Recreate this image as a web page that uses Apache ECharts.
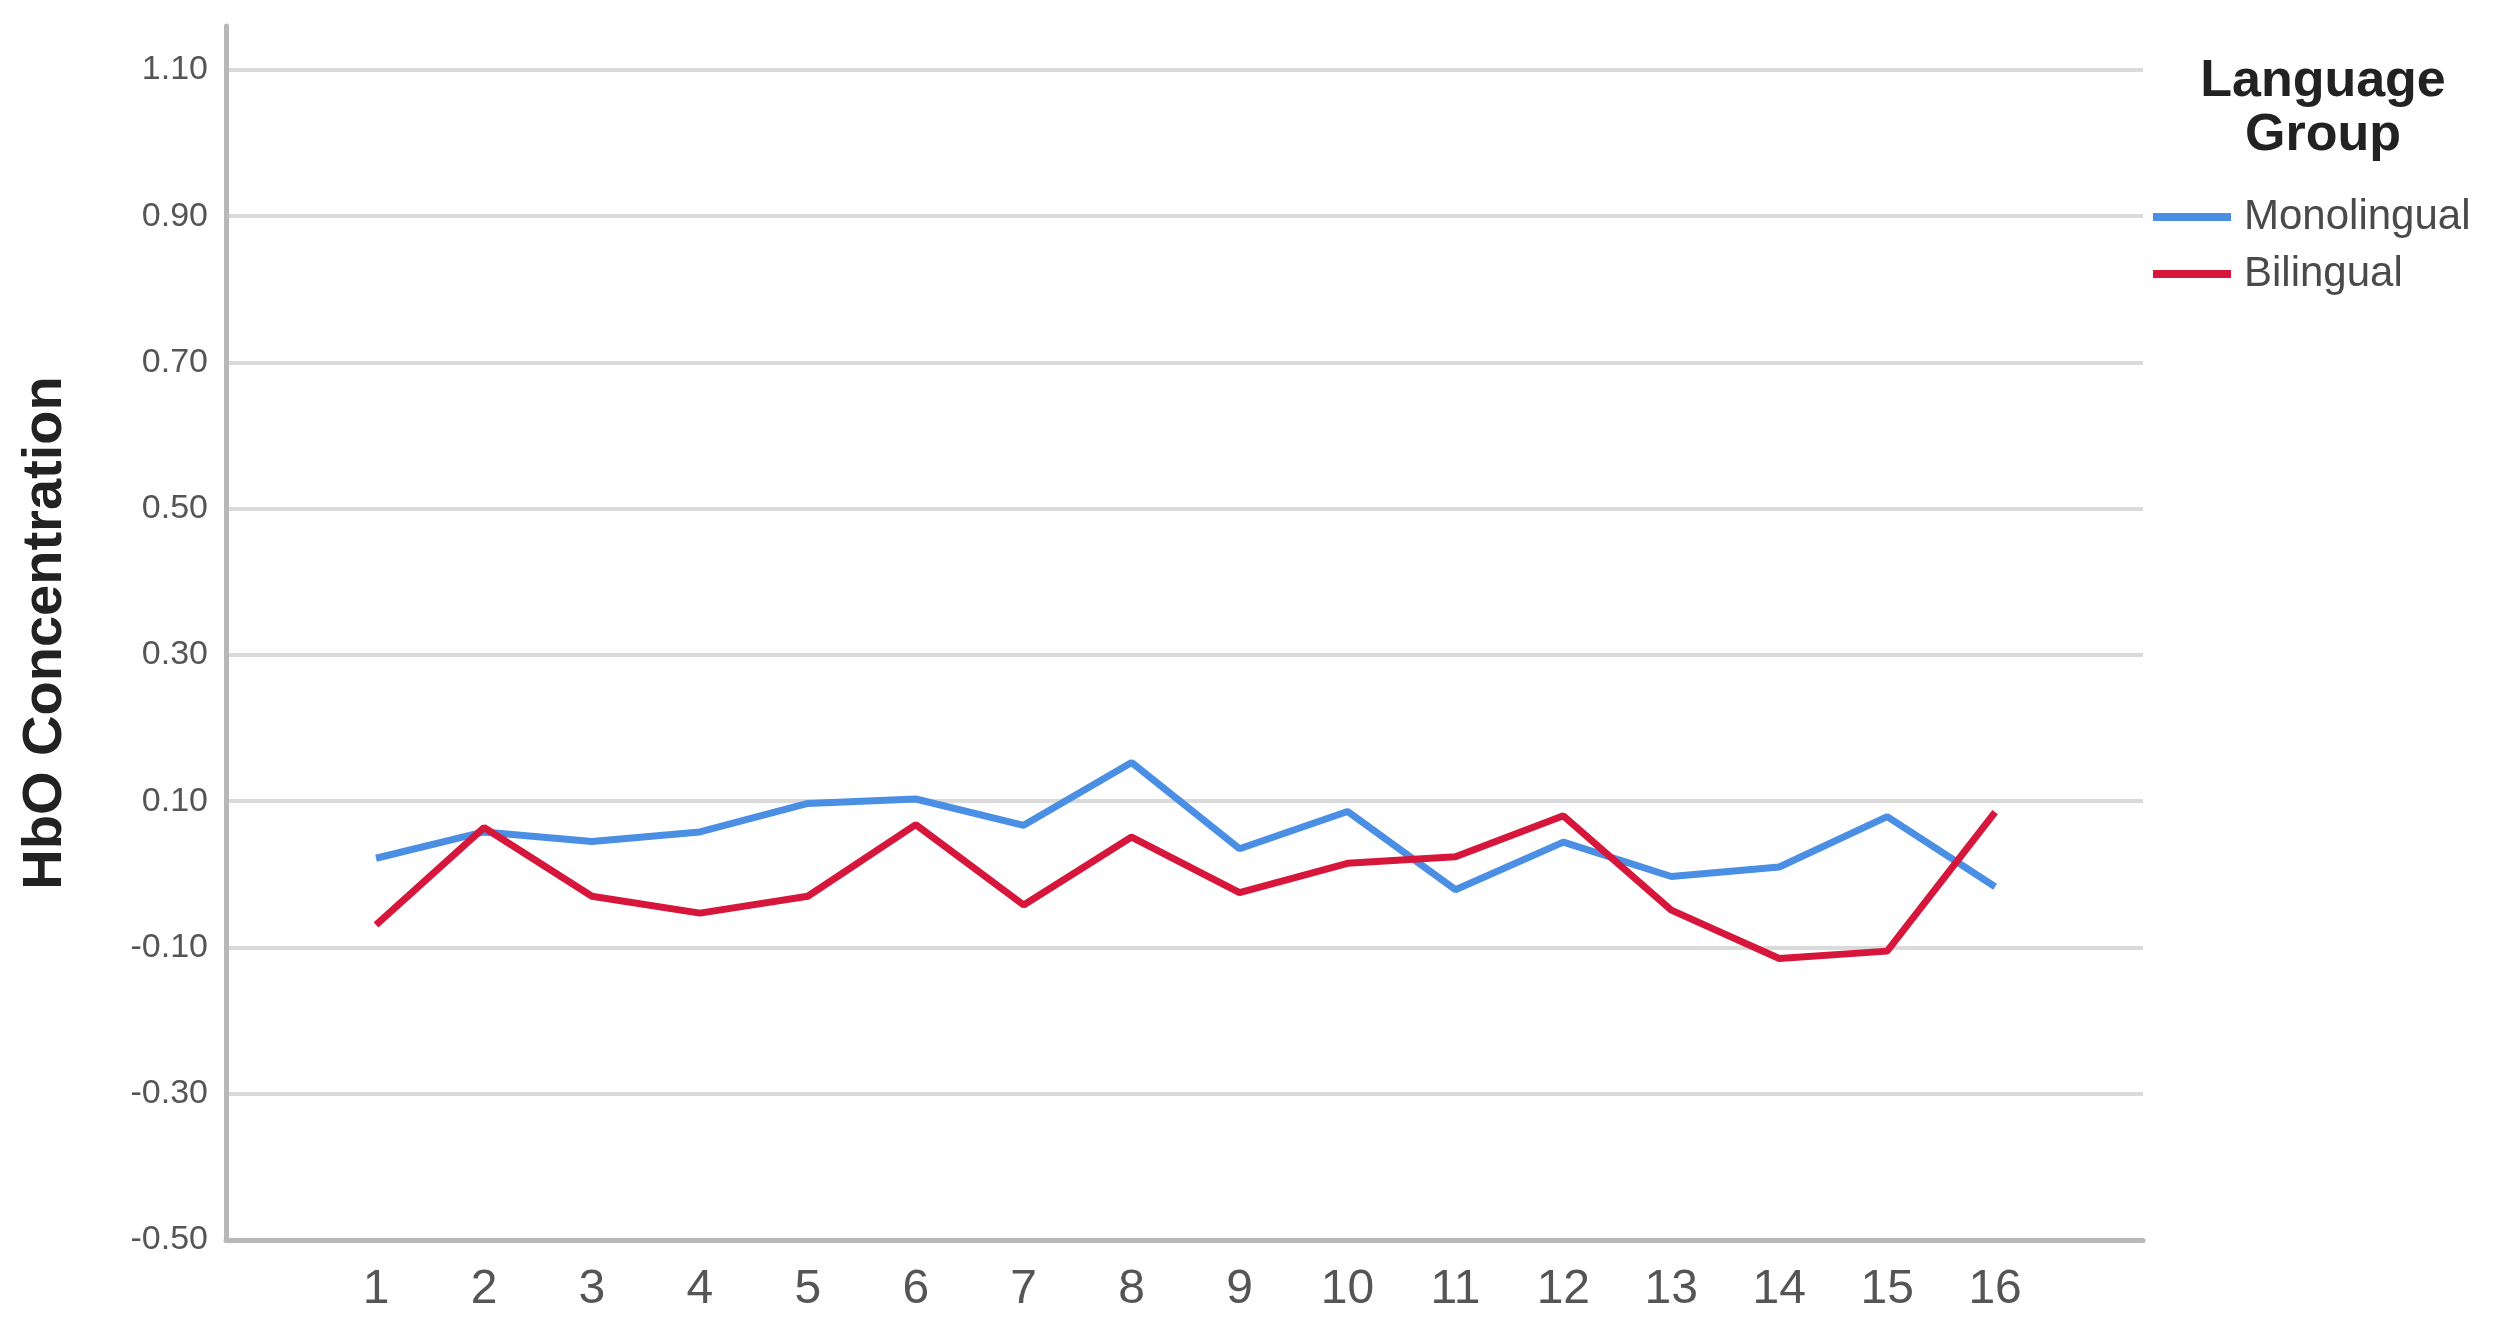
<!DOCTYPE html>
<html style="height: 100%">
<head>
	<meta charset="utf-8">
	<script src="https://cdn.jsdelivr.net/npm/echarts@6/dist/echarts.min.js"></script>
</head>
<body style="height: 100%; margin: 0; background: #fff">
<div id="container" style="width: 2502px; height: 1335px"></div>
<script type="text/javascript">
	// channel / time points on the x axis
	var points = [1, 2, 3, 4, 5, 6, 7, 8, 9, 10, 11, 12, 13, 14, 15, 16];
	var monolingual = [0.022, 0.058, 0.045, 0.058, 0.097, 0.103, 0.067, 0.153, 0.035, 0.086, -0.021, 0.044, -0.003, 0.010, 0.079, -0.017];
	var bilingual = [-0.069, 0.064, -0.030, -0.053, -0.030, 0.068, -0.042, 0.051, -0.025, 0.015, 0.024, 0.080, -0.049, -0.115, -0.105, 0.085];
	var yTicks = [-0.5, -0.3, -0.1, 0.1, 0.3, 0.5, 0.7, 0.9, 1.1];

	function toPairs(vals) {
		var res = [];
		for (var i = 0; i < points.length; i++) {
			res.push([points[i], vals[i]]);
		}
		return res;
	}

	// last split line belongs to the axis max (1.16) and is hidden
	var gridColors = [];
	for (var i = 0; i < yTicks.length; i++) gridColors.push('#dadada');
	gridColors.push('rgba(0,0,0,0)');

	var myChart = echarts.init(document.getElementById('container'));
	var option = {
		animation: false,
		textStyle: { fontFamily: "'Liberation Sans', Arial, sans-serif" },
		title: {
			text: 'Language\nGroup',
			left: 2318,
			top: 50,
			textAlign: 'center',
			textStyle: { fontSize: 52, fontWeight: 'bold', lineHeight: 54, color: '#222' }
		},
		legend: {
			left: 2148,
			top: 190,
			orient: 'vertical',
			icon: 'rect',
			itemWidth: 78,
			itemHeight: 8,
			itemGap: 13,
			textStyle: { fontSize: 42, color: '#4a4a4a', lineHeight: 44, padding: [0, 0, 0, 8] },
			data: ['Monolingual', 'Bilingual']
		},
		grid: { left: 226, right: 359, top: 26, bottom: 95, containLabel: false },
		xAxis: {
			type: 'value',
			min: -0.39,
			max: 17.37,
			splitLine: { show: false },
			axisTick: { show: false },
			axisLine: { onZero: false, lineStyle: { color: '#b8b8b8', width: 5 } },
			axisLabel: {
				customValues: points,
				fontSize: 48,
				color: '#555',
				margin: 26
			}
		},
		yAxis: {
			type: 'value',
			min: -0.5,
			max: 1.16,
			interval: 0.2,
			name: 'HbO Concentration',
			nameLocation: 'middle',
			nameGap: 152,
			nameTextStyle: { fontSize: 56, fontWeight: 'bold', color: '#222' },
			axisLine: { show: true, onZero: false, lineStyle: { color: '#b8b8b8', width: 5 } },
			axisTick: { show: false },
			splitLine: { lineStyle: { color: gridColors, width: 4 } },
			axisLabel: {
				fontSize: 34,
				color: '#555',
				margin: 18,
				showMaxLabel: false,
				formatter: function (v) { return v.toFixed(2); }
			}
		},
		series: [
			{
				name: 'Monolingual',
				type: 'line',
				data: toPairs(monolingual),
				symbol: 'none',
				color: '#4a8fe3',
				lineStyle: { width: 7, color: '#4a8fe3' }
			},
			{
				name: 'Bilingual',
				type: 'line',
				data: toPairs(bilingual),
				symbol: 'none',
				color: '#d6173b',
				lineStyle: { width: 7, color: '#d6173b' }
			}
		]
	};
	myChart.setOption(option);
</script>
</body>
</html>
